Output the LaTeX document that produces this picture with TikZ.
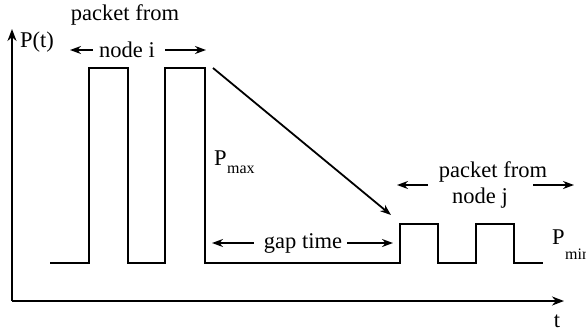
\documentclass[tikz,border=0pt]{standalone}
\usepackage{fontspec}
\setmainfont{Liberation Serif}
\usetikzlibrary{arrows.meta}
\begin{document}
\begin{tikzpicture}[x=1pt,y=-1pt,
  lbl/.style={font=\fontsize{22.5}{26}\selectfont, inner sep=0pt},
  sig/.style={line width=2.2pt, line join=miter},
  axis/.style={line width=2.2pt,-{Stealth[length=12pt,width=9pt]}},
  arr/.style={line width=1.8pt,-{Stealth[length=11pt,width=8pt]}},
  sub/.style={font=\fontsize{16}{18}\selectfont, inner sep=0pt}
]
\useasboundingbox (0,0) rectangle (586,333);
% axes
\coordinate (O) at (12,301);
\coordinate (ytop) at (12,29);
\coordinate (xend) at (564,301);
\draw[axis] (O) -- (ytop);
\draw[axis] (O) -- (xend);
% signal
\draw[sig] (50,263) -| (89,68) -| (128,263) -| (165,68) -| (205,263)
  -| (400,224) -| (438,263) -| (476,224) -| (514,263) -- (543,263);
% labels
\node[lbl] (pf1) at (125,15) {packet from};
\node[lbl, anchor=west] (pt) at (20,42) {P(t)};
\node[lbl] (ni) at (127,50) {node i};
\coordinate (nil) at (70,50);
\coordinate (nir) at (206,50);
\draw[arr] (ni.west) ++(-6,0) -- (nil);
\draw[arr] (ni.east) ++(10,0) -- (nir);
% diagonal
\coordinate (dgs) at (213,68);
\coordinate (dge) at (391,215);
\draw[arr] (dgs) -- (dge);
% Pmax
\node[lbl, anchor=west] (pmax) at (214,158) {P};
\node[sub, anchor=north west] (pmaxs) at (pmax.south east) {max};
% gap time
\node[lbl] (gap) at (303,243) {gap time};
\coordinate (gl) at (212,243);
\coordinate (gr) at (393,243);
\draw[arr] (gap.west) ++(-10,0) -- (gl);
\draw[arr] (gap.east) ++(5,0) -- (gr);
% packet from node j
\node[lbl] (pf2) at (493,172) {packet from};
\node[lbl] (nj) at (480,198) {node j};
\coordinate (njl) at (397,185);
\coordinate (njr) at (574,185);
\draw[arr] (428,185) -- (njl);
\draw[arr] (533,185) -- (njr);
% Pmin
\node[lbl, anchor=west] (pmin) at (552,237) {P};
\node[sub, anchor=north west] (pmins) at ([yshift=-4pt]pmin.south east) {min};
% t
\node[lbl] (t) at (557,321) {t};
\end{tikzpicture}
\end{document}
